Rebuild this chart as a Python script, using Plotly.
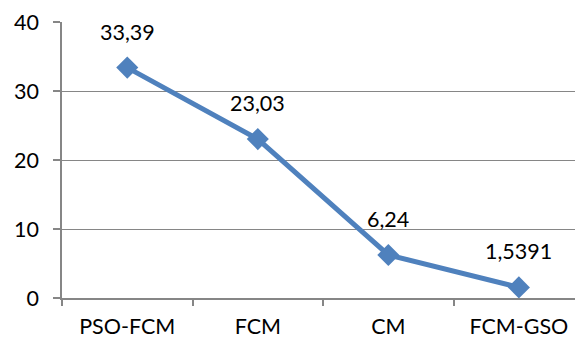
import plotly.graph_objects as go

# Clustering methods and their scores
methods = ["PSO-FCM", "FCM", "CM", "FCM-GSO"]
scores = [33.39, 23.03, 6.24, 1.5391]
score_labels = ["33,39", "23,03", "6,24", "1,5391"]
y_ticks = [0, 10, 20, 30, 40]

LINE_BLUE = "#4F81BD"
AXIS_GRAY = "#868686"
FONT = "Lato, 'Open Sans', sans-serif"
FONT_SIZE = 21.5

fig = go.Figure()
fig.add_trace(go.Scatter(
    x=methods,
    y=scores,
    mode="lines+markers",
    line=dict(color=LINE_BLUE, width=5),
    marker=dict(symbol="diamond", size=17, color=LINE_BLUE),
    showlegend=False,
    hoverinfo="skip",
))

for m, v, t in zip(methods, scores, score_labels):
    fig.add_annotation(
        x=m, y=v, text=t, showarrow=False, yshift=36,
        font=dict(family=FONT, size=FONT_SIZE, color="#000000"),
    )

fig.update_layout(
    width=575, height=341,
    margin=dict(l=62, r=0, t=22, b=43),
    paper_bgcolor="white", plot_bgcolor="white",
    font=dict(family=FONT, size=FONT_SIZE, color="#000000"),
)
fig.update_xaxes(
    type="category",
    range=[-0.5, 3.43],
    showgrid=False,
    showline=True, linecolor=AXIS_GRAY, linewidth=1.5,
    ticks="outside", tickson="boundaries", ticklen=6, tickcolor=AXIS_GRAY,
    tickwidth=1.5, ticklabelstandoff=8,
)
fig.update_yaxes(
    range=[0, 40],
    tickvals=y_ticks,
    showgrid=True, gridcolor=AXIS_GRAY, gridwidth=1.3,
    showline=True, linecolor=AXIS_GRAY, linewidth=1.5,
    ticks="outside", ticklen=7, tickcolor=AXIS_GRAY, tickwidth=1.5,
    ticklabelstandoff=10,
    zeroline=False,
)

fig.write_html("out.html")
